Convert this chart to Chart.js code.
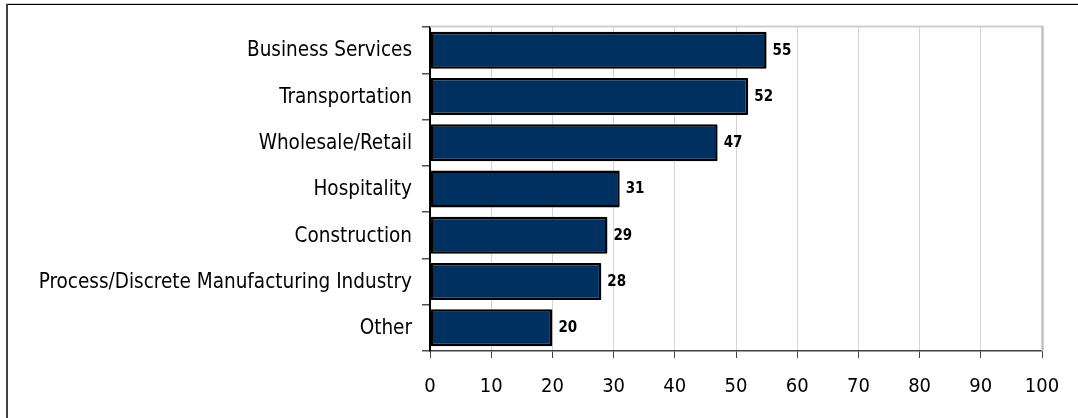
<!DOCTYPE html>
<html>
<head>
<meta charset="utf-8">
<style>
  html, body { margin: 0; padding: 0; background: #ffffff; }
  #wrap { position: relative; width: 1078px; height: 418px; }
</style>
<script src="https://cdn.jsdelivr.net/npm/chart.js@4.4.1/dist/chart.umd.min.js"></script>
</head>
<body>
<div id="wrap"><canvas id="chart" width="1078" height="418"></canvas></div>
<script>
// Industry sectors, top to bottom
const categories = [
  'Business Services',
  'Transportation',
  'Wholesale/Retail',
  'Hospitality',
  'Construction',
  'Process/Discrete Manufacturing Industry',
  'Other'
];
const values = [55, 52, 47, 31, 29, 28, 20];
const axisMin = 0;
const axisMax = 100;
const axisStep = 10;

const FONT = "'DejaVu Sans Condensed', 'DejaVu Sans', sans-serif";

// Outer frame of the chart object and frame of the plot area
const framePlugin = {
  id: 'frames',
  beforeDraw(chart) {
    const ctx = chart.ctx;
    ctx.save();
    ctx.fillStyle = '#ffffff';
    ctx.fillRect(0, 0, chart.width, chart.height);
    // outer frame (left and top edges visible)
    ctx.strokeStyle = '#d0d0d0';
    ctx.lineWidth = 1;
    ctx.beginPath();
    ctx.moveTo(6, 3.5); ctx.lineTo(chart.width, 3.5);
    ctx.stroke();
    ctx.strokeStyle = '#000000';
    ctx.beginPath();
    ctx.moveTo(6, 4.5); ctx.lineTo(chart.width, 4.5);
    ctx.stroke();
    ctx.strokeStyle = '#404040';
    ctx.lineWidth = 2;
    ctx.beginPath();
    ctx.moveTo(7, 4); ctx.lineTo(7, chart.height);
    ctx.stroke();
    ctx.restore();
  },
  beforeDatasetsDraw(chart) {
    const { ctx, chartArea: a } = chart;
    ctx.save();
    ctx.strokeStyle = '#cfcfcf';
    ctx.lineWidth = 2;
    ctx.beginPath();
    ctx.moveTo(a.left, a.top - 0.5);
    ctx.lineTo(a.right + 1, a.top - 0.5);
    ctx.stroke();
    ctx.strokeStyle = '#c2c2c2';
    ctx.lineWidth = 2.5;
    ctx.beginPath();
    ctx.moveTo(a.right + 0.5, a.top - 1);
    ctx.lineTo(a.right + 0.5, a.bottom);
    ctx.stroke();
    ctx.restore();
  }
};

// Value labels drawn just past the end of each bar
const valueLabels = {
  id: 'valueLabels',
  afterDatasetsDraw(chart) {
    const ctx = chart.ctx;
    ctx.save();
    ctx.font = 'bold 15px ' + FONT;
    ctx.fillStyle = '#000000';
    ctx.textAlign = 'left';
    ctx.textBaseline = 'middle';
    chart.getDatasetMeta(0).data.forEach((bar, i) => {
      ctx.fillText(String(values[i]), bar.x + 6, bar.y + 0.5);
    });
    ctx.restore();
  }
};

new Chart(document.getElementById('chart'), {
  type: 'bar',
  data: {
    labels: categories,
    datasets: [{
      data: values,
      backgroundColor: '#00305f',
      borderColor: '#000000',
      borderWidth: 2.5,
      borderRadius: 1,
      borderSkipped: false,
      barPercentage: 0.8,
      categoryPercentage: 1.0
    }]
  },
  options: {
    indexAxis: 'y',
    responsive: false,
    animation: false,
    devicePixelRatio: 1,
    layout: { padding: { left: 0, right: 36, top: 27, bottom: 0 } },
    plugins: {
      legend: { display: false },
      tooltip: { enabled: false }
    },
    scales: {
      x: {
        min: axisMin,
        max: axisMax,
        afterFit(scale) { scale.height = 67; },
        ticks: {
          stepSize: axisStep,
          color: '#000000',
          font: { family: FONT, size: 20 },
          padding: 17,
          maxRotation: 0
        },
        grid: {
          color: '#d4d4d4',
          lineWidth: 1,
          tickColor: '#404040',
          tickLength: 7,
          drawTicks: true
        },
        border: { display: true, color: '#404040', width: 1.5 }
      },
      y: {
        afterFit(scale) { scale.width = 430; },
        ticks: {
          color: '#000000',
          font: { family: FONT, size: 20.5 },
          padding: 10,
          labelOffset: 1
        },
        grid: {
          drawOnChartArea: false,
          offset: true,
          tickColor: '#505050',
          tickLength: 8,
          lineWidth: 1.5
        },
        border: { display: true, color: '#000000', width: 2 }
      }
    }
  },
  plugins: [framePlugin, valueLabels]
});
</script>
</body>
</html>
